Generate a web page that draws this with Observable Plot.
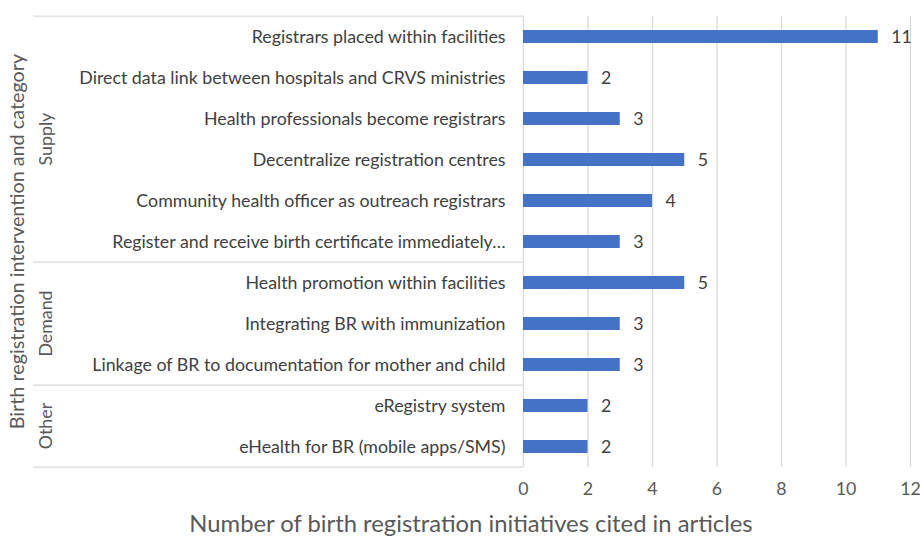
<!DOCTYPE html>
<html>
<head>
<meta charset="utf-8">
<script src="https://cdn.jsdelivr.net/npm/d3@7"></script>
<script src="https://cdn.jsdelivr.net/npm/@observablehq/plot@0.6"></script>
<style>
  html, body { margin: 0; padding: 0; background: #ffffff; }
  #chart svg { display: block; }
</style>
</head>
<body>
<div id="chart"></div>
<script>
const categories = [
  "Registrars placed within facilities",
  "Direct data link between hospitals and CRVS ministries",
  "Health professionals become registrars",
  "Decentralize registration centres",
  "Community health officer as outreach registrars",
  "Register and receive birth certificate immediately…",
  "Health promotion within facilities",
  "Integrating BR with immunization",
  "Linkage of BR to documentation for mother and child",
  "eRegistry system",
  "eHealth for BR (mobile apps/SMS)"
];
const values = [11, 2, 3, 5, 4, 3, 5, 3, 3, 2, 2];
const groupOf = ["Supply","Supply","Supply","Supply","Supply","Supply","Demand","Demand","Demand","Other","Other"];
const groups = ["Supply", "Demand", "Other"];
const xTicks = [0, 2, 4, 6, 8, 10, 12];
const xTitle = "Number of birth registration initiatives cited in articles";
const yTitle = "Birth registration intervention and category";

const data = categories.map((c, i) => ({category: c, value: values[i], group: groupOf[i]}));

const W = 922, H = 538;
const FS = 17.8;
const chart = Plot.plot({
  width: W, height: H,
  marginLeft: 523, marginRight: 12, marginTop: 16, marginBottom: 71,
  style: {fontFamily: "Lato, 'Open Sans', sans-serif", fontSize: FS + "px", color: "#595959", background: "#ffffff", overflow: "visible"},
  x: {domain: [0, 12], ticks: xTicks, label: null},
  y: {domain: categories, paddingInner: 0.68, paddingOuter: 0.34, label: null},
  marks: [
    Plot.gridX(xTicks, {stroke: "#d9d9d9", strokeOpacity: 1, strokeWidth: 1.3}),
    Plot.axisX({ticks: xTicks, tickSize: 0, tickPadding: 15, label: null, fontSize: FS, fill: "#595959"}),
    Plot.axisY({tickSize: 0, tickPadding: 18, label: null, fontSize: FS, fill: "#404040"}),
    Plot.barX(data, {x: "value", y: "category", fill: "#4472C4"}),
    Plot.text(data, {x: "value", y: "category", text: d => String(d.value), textAnchor: "start", dx: 13, fontSize: FS, fill: "#404040"})
  ]
});
document.getElementById("chart").appendChild(chart);

// Multi-level category decorations, positioned from Plot's own y scale
const y = chart.scale("y");
const step = y.step;
const outer = y.paddingInner * step / 2;
const rowTop = c => y.apply(c) - outer;
const rowBottom = c => y.apply(c) - outer + step;
const svg = d3.select(chart);
const xLeftLine = 33, xAxis = 523;
const g = svg.append("g");
const boundaries = [];
groups.forEach(gr => {
  const cats = categories.filter((c, i) => groupOf[i] === gr);
  const top = rowTop(cats[0]), bot = rowBottom(cats[cats.length - 1]);
  boundaries.push(top, bot);
  g.append("text")
    .attr("transform", `translate(47,${(top + bot) / 2}) rotate(-90)`)
    .attr("text-anchor", "middle").attr("dominant-baseline", "middle")
    .attr("font-family", "Lato, sans-serif").attr("font-size", FS).attr("fill", "#595959")
    .text(gr);
});
[...new Set(boundaries.map(b => Math.round(b * 10) / 10))].forEach(b => {
  g.append("line").attr("x1", xLeftLine).attr("x2", xAxis).attr("y1", b).attr("y2", b)
    .attr("stroke", "#d9d9d9").attr("stroke-width", 1.3);
});
const yTop = rowTop(categories[0]), yBot = rowBottom(categories[categories.length - 1]);
g.append("text")
  .attr("transform", `translate(19,${(yTop + yBot) / 2}) rotate(-90)`)
  .attr("text-anchor", "middle").attr("dominant-baseline", "middle")
  .attr("font-family", "Lato, sans-serif").attr("font-size", 19.8).attr("fill", "#595959")
  .text(yTitle);
g.append("text")
  .attr("x", 471).attr("y", 526)
  .attr("text-anchor", "middle").attr("dominant-baseline", "middle")
  .attr("font-family", "Lato, sans-serif").attr("font-size", 23.8).attr("fill", "#595959")
  .text(xTitle);
</script>
</body>
</html>
